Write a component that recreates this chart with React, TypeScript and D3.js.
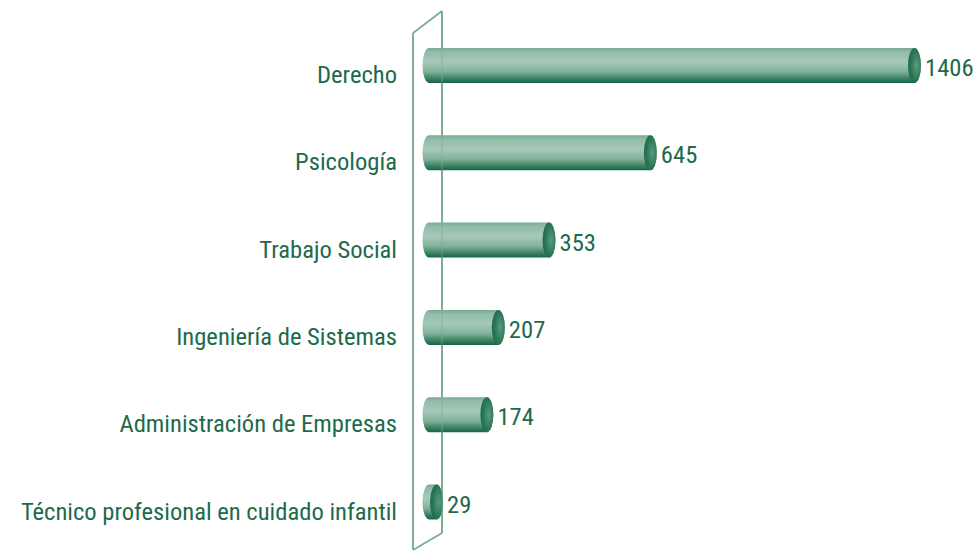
import React from "react";
import * as d3 from "d3";

const categories = [
  "Derecho",
  "Psicología",
  "Trabajo Social",
  "Ingeniería de Sistemas",
  "Administración de Empresas",
  "Técnico profesional en cuidado infantil",
];
const values = [1406, 645, 353, 207, 174, 29];

const W = 980;
const H = 553;
const FONT = "'Liberation Sans Narrow', 'Arial Narrow', 'Roboto Condensed', 'DejaVu Sans Condensed', sans-serif";
const TEXT = "#1d6a4b";
const WALL = "#7fae98";

export default function App() {
  const x = d3.scaleLinear().domain([0, 1406]).range([433, 921]);
  const y = d3
    .scalePoint<string>()
    .domain(categories)
    .range([65.5, 502]);
  const rx = 6.5;
  const ry = 17.5;
  const x0 = 429;

  return (
    <svg
      width={W}
      height={H}
      style={{ position: "absolute", left: 0, top: 0, background: "#fff" }}
    >
      <defs>
        <linearGradient id="body" x1="0" y1="0" x2="0" y2="1">
          <stop offset="0%" stopColor="#78ab95" />
          <stop offset="12%" stopColor="#92bca9" />
          <stop offset="40%" stopColor="#a6c9b9" />
          <stop offset="68%" stopColor="#80b19b" />
          <stop offset="86%" stopColor="#3e8465" />
          <stop offset="100%" stopColor="#17654a" />
        </linearGradient>
        <radialGradient id="face" cx="0.65" cy="0.5" r="0.7">
          <stop offset="0%" stopColor="#5a9a80" />
          <stop offset="60%" stopColor="#2a7757" />
          <stop offset="100%" stopColor="#1a684a" />
        </radialGradient>
      </defs>
      {/* back wall */}
      <g fill="none" stroke={WALL} strokeWidth={2}>
        <line x1={413} y1={33} x2={413} y2={550} />
        <line x1={413} y1={33} x2={442} y2={11} />
        <line x1={442} y1={11} x2={442} y2={533} />
        <line x1={413} y1={550} x2={442} y2={533} />
      </g>
      {categories.map((c, i) => {
        const cy = y(c) as number;
        const end = x(values[i]);
        const x1 = end - rx;
        const top = cy - ry;
        const bot = cy + ry;
        const path = `M${x0},${top} L${x1},${top} A${rx},${ry} 0 0 1 ${x1},${bot} L${x0},${bot} A${rx},${ry} 0 0 1 ${x0},${top} Z`;
        return (
          <g key={c}>
            <path d={path} fill="url(#body)" />
            <ellipse cx={x1} cy={cy} rx={rx} ry={ry} fill="url(#face)" />
            <text
              x={397}
              y={cy + 17.5}
              textAnchor="end"
              fontFamily={FONT}
              fontSize={24.6}
              fill={TEXT}
            >
              {c}
            </text>
            <text
              x={end + 4}
              y={cy + 10.5}
              fontFamily={FONT}
              fontSize={24.6}
              fill={TEXT}
            >
              {values[i]}
            </text>
          </g>
        );
      })}
      <line x1={442} y1={11} x2={442} y2={533} stroke={WALL} strokeWidth={1.5} strokeOpacity={0.45} />
    </svg>
  );
}
